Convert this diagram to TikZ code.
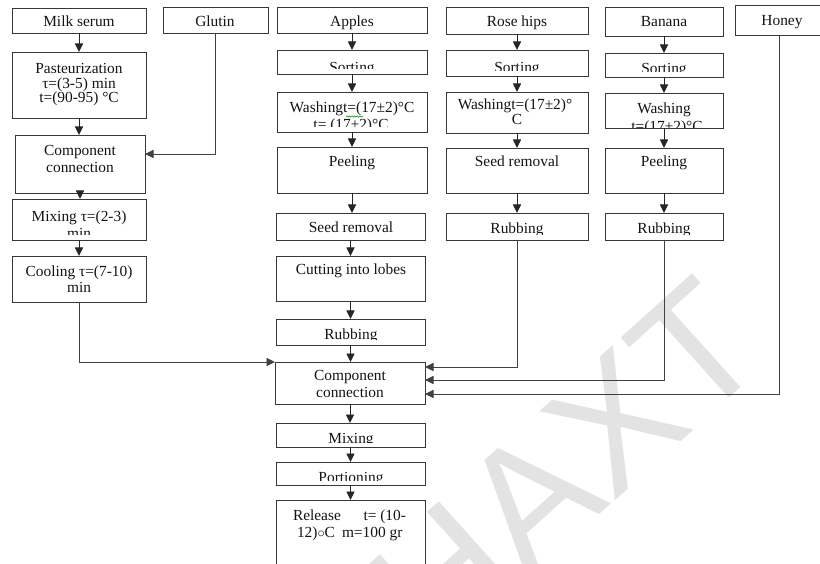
\documentclass[tikz,border=0pt]{standalone}
\usepackage{fontspec}
\setmainfont{Liberation Serif}
\newfontfamily\wmfont{Liberation Sans}
\usetikzlibrary{arrows.meta,decorations.pathmorphing}

\tikzset{
  stepbox/.style={draw=black!78, line width=0.9pt, rectangle, inner sep=0pt, outer sep=0pt},
  lbl/.style={anchor=base, inner sep=0pt, outer sep=0pt, font=\fontsize{15.4}{17}\selectfont, text=black!92},
  lbll/.style={lbl, anchor=base west},
  lblr/.style={lbl, anchor=base east},
  flow/.style={draw=black!85, line width=0.9pt, -{Triangle[length=8.5pt,width=8pt]}},
  feed/.style={draw=black!75, line width=0.9pt, -{Triangle[length=8.5pt,width=8pt]}},
}

% box from corner (x1,y1) to corner (x2,y2)
\newcommand\boxat[5]{\node[stepbox, minimum width={#4-#2}, minimum height={#5-#3}] (#1) at ({(#2+#4)/2},{(#3+#5)/2}) {};}
% one text line: name, x, baseline y, text
\newcommand\lineat[4]{\node[lbl] (#1) at (#2,#3) {#4};}
% text line cut off inside its box: name, x1, y1, x2, clip y, x, baseline y, text
\newcommand\cutline[8]{\begin{scope}\clip (#2,#3) rectangle (#4,#5); \node[lbl] (#1) at (#6,#7) {#8};\end{scope}}

\begin{document}
\begin{tikzpicture}[x=1pt,y=-1pt]
\useasboundingbox (0,0) rectangle (820,564);
\fill[white] (0,0) rectangle (820,564);

% background stamp
\node[font=\wmfont\fontsize{170}{170}\selectfont, text=black!11, rotate=42, inner sep=0pt] (stamp) at (566,466) {HAXT};

% ---- milk serum line
\boxat{milk}{12}{8}{146}{33}
\lineat{milk-t}{79}{27}{Milk serum}
\boxat{past}{12}{52}{146}{118}
\lineat{past-t1}{79}{74}{Pasteurization}
\lineat{past-t2}{79}{89}{τ=(3-5) min}
\lineat{past-t3}{79}{103}{t=(90-95) °C}
\boxat{conA}{15}{135}{145}{193}
\lineat{conA-t1}{80}{156}{Component}
\lineat{conA-t2}{80}{173}{connection}
\boxat{mixA}{12}{199}{146}{240}
\lineat{mixA-t1}{79}{222}{Mixing τ=(2-3)}
\cutline{mixA-t2}{12}{199}{146}{235}{79}{239}{min}
\boxat{cool}{12}{256}{146}{302}
\lineat{cool-t1}{79}{277}{Cooling τ=(7-10)}
\lineat{cool-t2}{79}{293}{min}

\boxat{glutin}{163}{7}{268}{33}
\lineat{glutin-t}{215}{27}{Glutin}

% ---- apples line
\boxat{apples}{277}{7}{427}{33}
\lineat{apples-t}{352}{27}{Apples}
\boxat{sortA}{277}{50}{427}{74}
\cutline{sortA-t}{277}{50}{427}{69}{352}{73}{Sorting}
\boxat{washA}{277}{92}{427}{132}
\lineat{washA-t1}{352}{113}{Washingt=(17±2)°C}
\cutline{washA-t2}{277}{92}{427}{127}{351}{130}{t= (17±2)°C}
\draw[green!55!black, line width=0.5pt, decorate, decoration={snake, amplitude=0.7pt, segment length=2.6pt}] (346,116.5) -- (363,116.5);
\boxat{peelA}{277}{147}{427}{193}
\lineat{peelA-t}{352}{167}{Peeling}
\boxat{seedA}{276}{213}{425}{240}
\lineat{seedA-t}{351}{233}{Seed removal}
\boxat{cut}{276}{256}{425}{301}
\lineat{cut-t}{351}{275}{Cutting into lobes}
\boxat{rubA}{276}{319}{425}{345}
\cutline{rubA-t}{276}{319}{425}{340}{351}{339}{Rubbing}
\boxat{conB}{275}{362}{425}{404}
\lineat{conB-t1}{350}{380}{Component}
\lineat{conB-t2}{350}{397}{connection}
\boxat{mixB}{276}{423}{425}{447}
\cutline{mixB-t}{276}{423}{425}{442}{351}{443}{Mixing}
\boxat{port}{276}{462}{425}{485}
\cutline{port-t}{276}{462}{425}{480}{351}{482}{Portioning}
\boxat{rel}{276}{500}{425}{590}
\node[lbll] (rel-t1) at (293,520) {Release};
\node[lblr] (rel-t2) at (406,520) {t= (10-};
\node[lbll] (rel-t3) at (297,537) {12)$\circ$C};
\node[lbll] (rel-t4) at (342,537) {m=100 gr};

% ---- rose hips line
\boxat{rose}{446}{7}{588}{34}
\lineat{rose-t}{517}{27}{Rose hips}
\boxat{sortB}{446}{50}{588}{76}
\cutline{sortB-t}{446}{50}{588}{71}{517}{73}{Sorting}
\boxat{washB}{446}{92}{588}{133}
\lineat{washB-t1}{515}{110}{Washingt=(17±2)°}
\lineat{washB-t2}{517}{125}{C}
\boxat{seedB}{446}{148}{588}{193}
\lineat{seedB-t}{517}{167}{Seed removal}
\boxat{rubB}{446}{213}{588}{240}
\cutline{rubB-t}{446}{213}{588}{235}{517}{234}{Rubbing}

% ---- banana line
\boxat{banana}{605}{7}{723}{36}
\lineat{banana-t}{664}{27}{Banana}
\boxat{sortC}{605}{53}{723}{77}
\cutline{sortC-t}{605}{53}{723}{72}{664}{74}{Sorting}
\boxat{washC}{605}{93}{723}{128}
\lineat{washC-t1}{664}{114}{Washing}
\cutline{washC-t2}{605}{93}{723}{127.5}{667}{132}{t=(17±2)°C}
\boxat{peelC}{605}{148}{723}{193}
\lineat{peelC-t}{664}{167}{Peeling}
\boxat{rubC}{605}{213}{723}{240}
\cutline{rubC-t}{605}{213}{723}{235}{664}{234}{Rubbing}

% ---- honey
\boxat{honey}{735}{5}{824}{35}
\lineat{honey-t}{782}{26}{Honey}

% ---- flow arrows within each line
\foreach \a/\b in {milk/past, past/conA, conA/mixA, mixA/cool,
                   apples/sortA, sortA/washA, washA/peelA, peelA/seedA, seedA/cut, cut/rubA, rubA/conB,
                   conB/mixB, mixB/port, port/rel,
                   rose/sortB, sortB/washB, washB/seedB, seedB/rubB,
                   banana/sortC, sortC/washC, washC/peelC, peelC/rubC}
  \draw[flow] (\a.south) -- (\a.south |- \b.north);

% ---- feeds into the connection steps
\draw[feed] (glutin.south) |- ([yshift=10pt]conA.east);
\draw[feed] (cool.south) |- (conB.north west);
\draw[feed] (rubB.south) |- ([yshift=16pt]conB.east);
\draw[feed] (rubC.south) |- ([yshift=3pt]conB.east);
\draw[feed] (honey.south) |- ([yshift=-11pt]conB.east);
\end{tikzpicture}
\end{document}
